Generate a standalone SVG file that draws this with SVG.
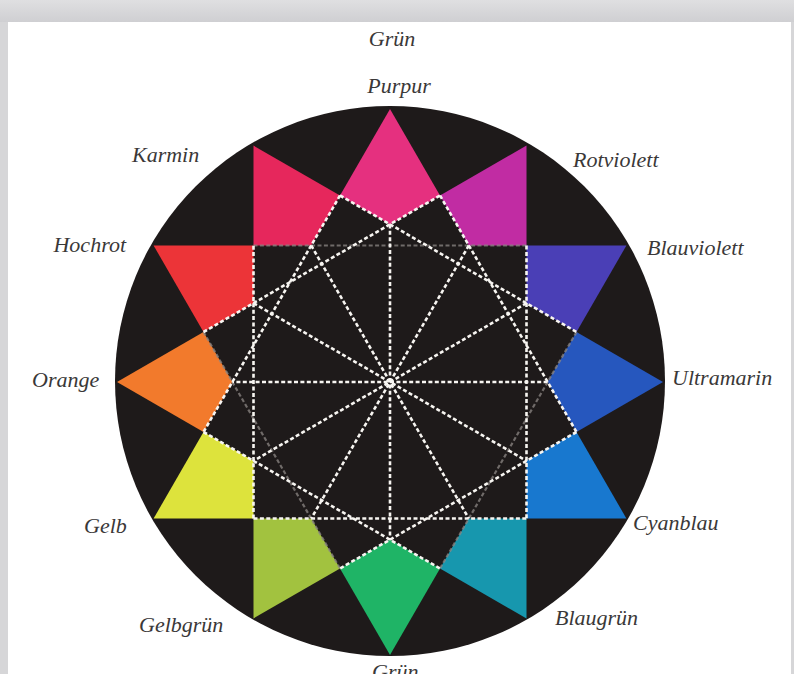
<svg xmlns="http://www.w3.org/2000/svg" width="794" height="674" viewBox="0 0 794 674">
<defs>
<linearGradient id="band" x1="0" y1="0" x2="0" y2="1">
<stop offset="0" stop-color="#dfdfe1"/><stop offset="1" stop-color="#cfcfd2"/>
</linearGradient>
<style>
.lbl{font-family:"Liberation Serif","Times New Roman",serif;font-style:italic;font-size:22px;fill:#3a3838}
.seg{stroke:none}
.dash{fill:none;stroke:#f7f5f1;stroke-width:2.6;stroke-dasharray:4 2.4}
.faint{fill:none;stroke:#8c8784;stroke-width:2.2;stroke-dasharray:4 2.4;opacity:0.75}
</style>
</defs>
<rect width="794" height="674" fill="#d6d6d8"/>
<rect x="0" y="0" width="794" height="22" fill="url(#band)"/>
<rect x="8" y="22" width="783" height="652" fill="#ffffff"/>
<g id="disc"><circle cx="390" cy="381" r="275" fill="#1e1a1a"/></g>
<text class="lbl" x="392" y="46" text-anchor="middle">Grün</text>
<g id="purpur"><polygon class="seg" fill="#e5307f" points="390,109 440,195.5 390,224.4 340,195.5"/><text class="lbl" x="399" y="93" text-anchor="middle">Purpur</text></g>
<g id="rotviolett"><polygon class="seg" fill="#c12ca3" points="526.5,145.6 526.5,245.5 468.8,245.5 440,195.5"/><text class="lbl" x="573" y="167">Rotviolett</text></g>
<g id="blauviolett"><polygon class="seg" fill="#4a3fb6" points="626.4,245.5 576.5,332 526.5,303.2 526.5,245.5"/><text class="lbl" x="647" y="255">Blauviolett</text></g>
<g id="ultramarin"><polygon class="seg" fill="#2657be" points="663,382 576.5,432 547.6,382 576.5,332"/><text class="lbl" x="672" y="385">Ultramarin</text></g>
<g id="cyanblau"><polygon class="seg" fill="#1878cf" points="626.4,518.5 526.5,518.5 526.5,460.8 576.5,432"/><text class="lbl" x="633" y="530">Cyanblau</text></g>
<g id="blaugruen"><polygon class="seg" fill="#1797ae" points="526.5,618.4 440,568.5 468.8,518.5 526.5,518.5"/><text class="lbl" x="555" y="625">Blaugrün</text></g>
<g id="gruen"><polygon class="seg" fill="#1fb466" points="390,655 340,568.5 390,539.6 440,568.5"/><text class="lbl" x="372" y="679">Grün</text></g>
<g id="gelbgruen"><polygon class="seg" fill="#a2c23f" points="253.5,618.4 253.5,518.5 311.2,518.5 340,568.5"/><text class="lbl" x="139" y="632">Gelbgrün</text></g>
<g id="gelb"><polygon class="seg" fill="#dde33c" points="153.6,518.5 203.5,432 253.5,460.8 253.5,518.5"/><text class="lbl" x="84" y="533">Gelb</text></g>
<g id="orange"><polygon class="seg" fill="#f27a2c" points="117,382 203.5,332 232.4,382 203.5,432"/><text class="lbl" x="32" y="387">Orange</text></g>
<g id="hochrot"><polygon class="seg" fill="#ec3438" points="153.6,245.5 253.5,245.5 253.5,303.2 203.5,332"/><text class="lbl" x="126" y="252" text-anchor="end">Hochrot</text></g>
<g id="karmin"><polygon class="seg" fill="#e6275c" points="253.5,145.6 340,195.5 311.2,245.5 253.5,245.5"/><text class="lbl" x="132" y="162">Karmin</text></g>
<g id="connectors">
<path class="faint" d="M253.5,245.5 L526.5,245.5 M203.5,332 L340,568.5 M576.5,332 L440,568.5"/>
<path class="dash" d="M340,195.5 L576.5,332 M253.5,518.5 L253.5,245.5 M576.5,432 L340,568.5 M203.5,332 L440,195.5 M203.5,432 L440,568.5 M526.5,245.5 L526.5,518.5 M340,195.5 L203.5,432 M253.5,518.5 L526.5,518.5 M440,195.5 L576.5,432"/>
<path class="dash" d="M547.6,382 L232.4,382 M526.5,303.2 L253.5,460.8 M468.8,245.5 L311.2,518.5 M390,224.4 L390,539.6 M311.2,245.5 L468.8,518.5 M253.5,303.2 L526.5,460.8"/>
</g>
</svg>
